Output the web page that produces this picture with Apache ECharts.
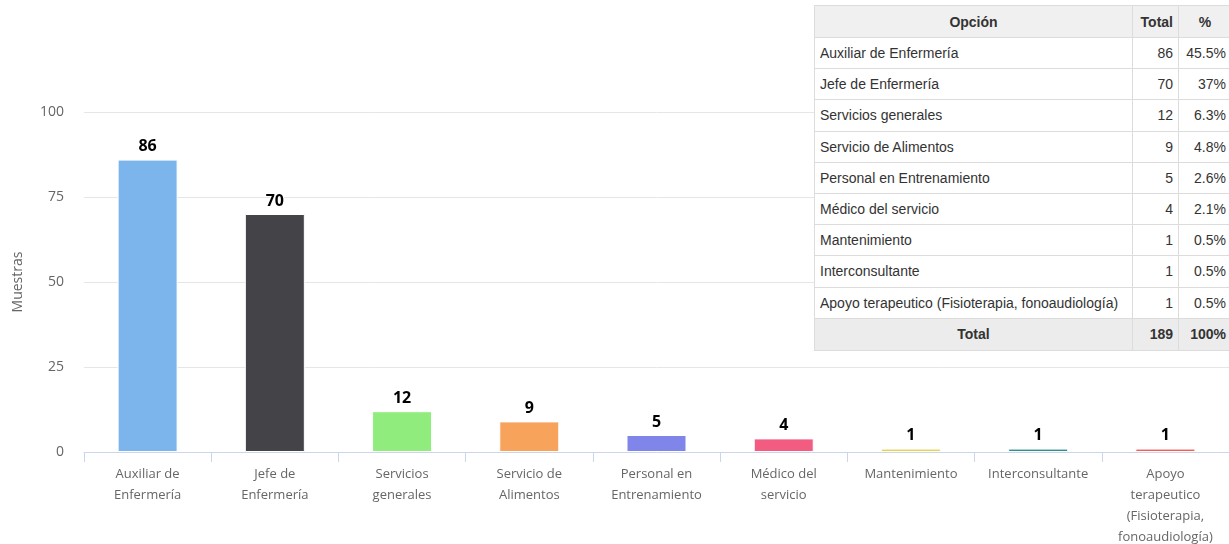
<!DOCTYPE html>
<html>
<head>
<meta charset="utf-8">
<script src="https://cdn.jsdelivr.net/npm/echarts@6/dist/echarts.min.js"></script>
<style>
  html, body { margin: 0; padding: 0; background: #fff; }
  #chart { position: absolute; left: 0; top: 0; width: 1229px; height: 544px; }
  #tbl { position: absolute; left: 814px; top: 5px; width: 417px; border-collapse: collapse; table-layout: fixed;
         font-family: "Liberation Sans", Arial, sans-serif; font-size: 14px; color: #333; background: #fff; }
  #tbl td, #tbl th { border: 1px solid #dcdcdc; padding: 0 5px; white-space: nowrap; overflow: hidden; }
  #tbl th { background: #f0f0f0; font-weight: bold; height: 31px; }
  #tbl td { height: 30.2px; }
  #tbl td.n { text-align: right; }
  #tbl tr.tot td { background: #ececec; font-weight: bold; height: 31px; }
  #wrap { position: absolute; left: 0; top: 0; width: 1229px; height: 544px; overflow: hidden; }
</style>
</head>
<body>
<div id="wrap">
<div id="chart"></div>
<table id="tbl"></table>
</div>
<script>
const categories = [
  "Auxiliar de Enfermería", "Jefe de Enfermería", "Servicios generales",
  "Servicio de Alimentos", "Personal en Entrenamiento", "Médico del servicio",
  "Mantenimiento", "Interconsultante", "Apoyo terapeutico (Fisioterapia, fonoaudiología)"
];
const tickLabels = [
  "Auxiliar de\nEnfermería", "Jefe de\nEnfermería", "Servicios\ngenerales",
  "Servicio de\nAlimentos", "Personal en\nEntrenamiento", "Médico del\nservicio",
  "Mantenimiento", "Interconsultante", "Apoyo\nterapeutico\n(Fisioterapia,\nfonoaudiología)"
];
const values = [86, 70, 12, 9, 5, 4, 1, 1, 1];
const percents = ["45.5%", "37%", "6.3%", "4.8%", "2.6%", "2.1%", "0.5%", "0.5%", "0.5%"];
const total = 189;
const totalPct = "100%";
const colors = ["#7cb5ec", "#434348", "#90ed7d", "#f7a35c", "#8085e9", "#f15c80", "#e4d354", "#2b908f", "#f45b5b"];

// Table
const tbl = document.getElementById('tbl');
let html = '<colgroup><col style="width:318px"><col style="width:46px"><col style="width:53px"></colgroup>';
html += '<tr><th>Opción</th><th style="text-align:right">Total</th><th style="text-align:center">%</th></tr>';
categories.forEach((c, i) => {
  html += '<tr><td>' + c + '</td><td class="n">' + values[i] + '</td><td class="n">' + percents[i] + '</td></tr>';
});
html += '<tr class="tot"><td style="text-align:center">Total</td><td class="n">' + total + '</td><td class="n">' + totalPct + '</td></tr>';
tbl.innerHTML = html;

const chart = echarts.init(document.getElementById('chart'), null, { renderer: 'canvas' });
chart.setOption({
  animation: false,
  grid: { left: 84, right: 0, top: 112, bottom: 92, containLabel: false, outerBoundsMode: 'none' },
  xAxis: {
    type: 'category',
    data: categories,
    axisLine: { lineStyle: { color: '#ccd6eb', width: 1 } },
    axisTick: { show: true, length: 10, lineStyle: { color: '#ccd6eb' } },
    axisLabel: {
      interval: 0,
      margin: 12,
      color: '#666',
      fontFamily: 'Open Sans',
      fontSize: 13,
      lineHeight: 21,
      formatter: (v, i) => tickLabels[i]
    }
  },
  yAxis: {
    type: 'value',
    min: 0, max: 100, interval: 25,
    name: 'Muestras',
    nameLocation: 'middle',
    nameGap: 59,
    nameTextStyle: { color: '#666', fontFamily: 'Open Sans', fontSize: 14 },
    axisLine: { show: false },
    axisTick: { show: false },
    axisLabel: { color: '#666', fontFamily: 'Open Sans', fontSize: 14, margin: 20 },
    splitLine: { lineStyle: { color: '#e6e6e6', width: 1 } }
  },
  series: [{
    type: 'bar',
    barWidth: 60,
    data: values.map((v, i) => ({ value: v, itemStyle: { color: colors[i] } })),
    itemStyle: { borderColor: '#fff', borderWidth: 1 },
    label: {
      show: true,
      position: 'top',
      distance: 5,
      color: '#000',
      fontFamily: 'Open Sans',
      fontWeight: 'bold',
      fontSize: 16,
      textBorderColor: '#fff',
      textBorderWidth: 2
    }
  }]
});
</script>
</body>
</html>
